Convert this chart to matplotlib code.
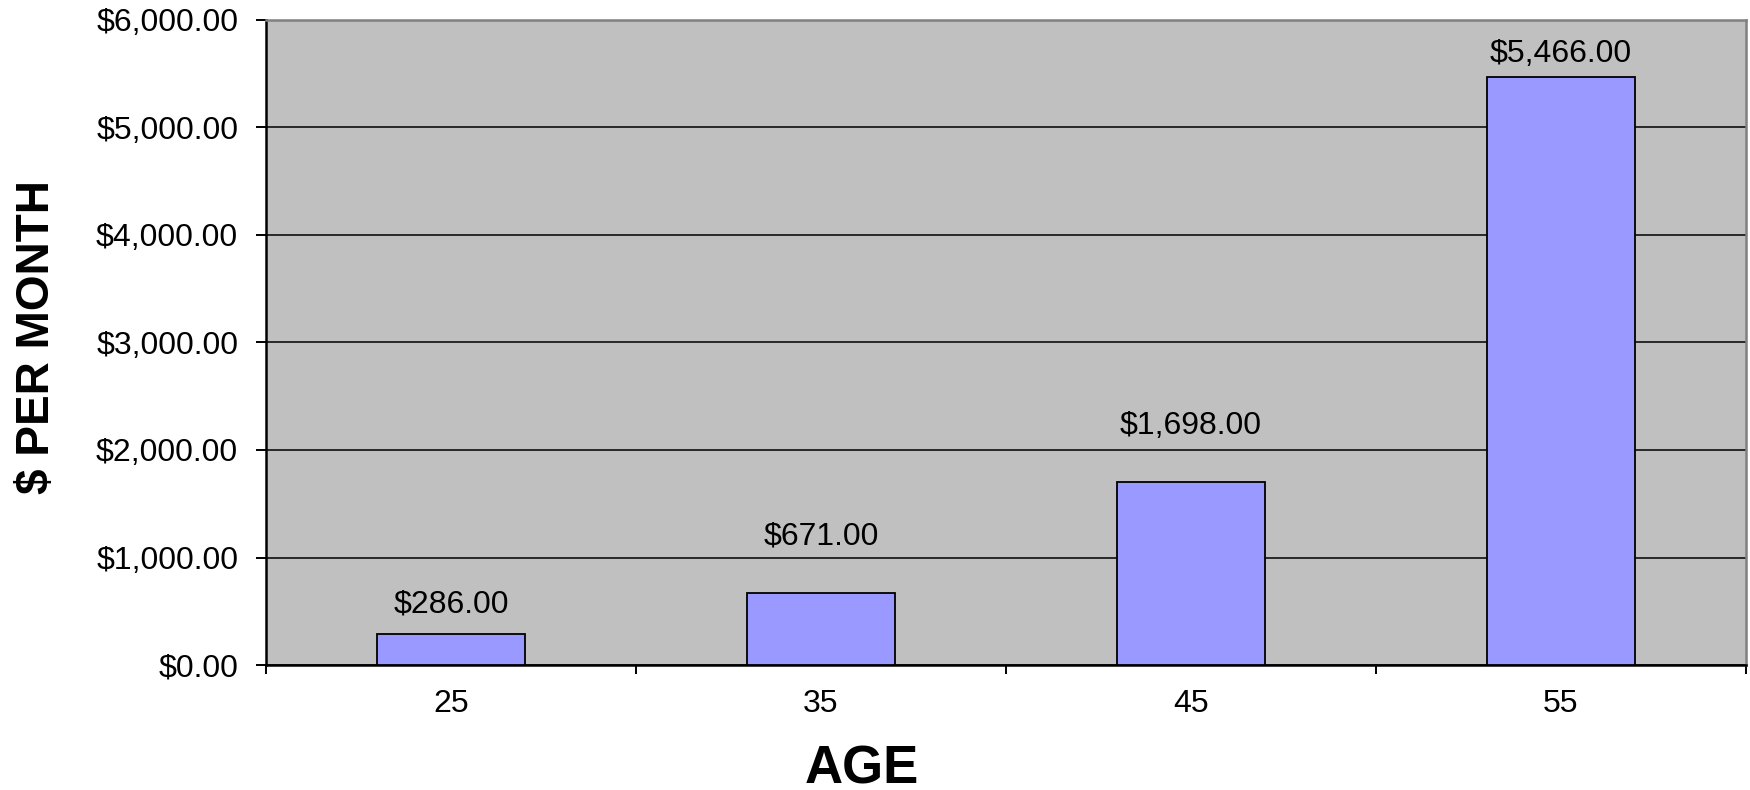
import matplotlib
matplotlib.use("Agg")
import matplotlib.pyplot as plt
from matplotlib.ticker import FuncFormatter, MultipleLocator, FixedLocator
import numpy as np

plt.rcParams['font.family'] = ['Liberation Sans', 'DejaVu Sans']

ages = ["25", "35", "45", "55"]
monthly_cost = [286.0, 671.0, 1698.0, 5466.0]
label_offsets_pt = [16, 35, 35, 11]  # Excel's label placement (style)

fig = plt.figure(figsize=(17.5, 7.9), dpi=100)
ax = fig.add_axes([266/1750, 125/790, 1480/1750, 645/790])
ax.set_facecolor('#C0C0C0')

x = np.arange(len(ages))
bars = ax.bar(x, monthly_cost, width=0.4, color='#9999FF', edgecolor='black', linewidth=1.3, zorder=3)

ax.set_xlim(-0.5, len(ages) - 0.5)
ax.set_ylim(0, 6000)
ax.yaxis.set_major_locator(MultipleLocator(1000))
ax.yaxis.set_major_formatter(FuncFormatter(lambda v, p: f"${v:,.2f}"))
ax.grid(axis='y', color='black', linewidth=1.1, zorder=1)
ax.set_axisbelow(True)

ax.set_xticks(x)
ax.set_xticklabels(ages)
ax.xaxis.set_minor_locator(FixedLocator(np.arange(-0.5, len(ages), 1.0)))
ax.tick_params(axis='x', which='major', length=0, pad=17, labelsize=23)
ax.tick_params(axis='x', which='minor', length=6.5, width=1.4, direction='out')
ax.tick_params(axis='y', which='major', length=7, width=1.4, direction='out', pad=13, labelsize=23)

for s in ['left', 'bottom']:
    ax.spines[s].set_color('black')
    ax.spines[s].set_linewidth(1.8)
for s in ['top', 'right']:
    ax.spines[s].set_color('#808080')
    ax.spines[s].set_linewidth(1.8)

for xi, v, off in zip(x, monthly_cost, label_offsets_pt):
    ax.annotate(f"${v:,.2f}", (xi, v), xytext=(0, off), textcoords='offset points',
                ha='center', va='baseline', fontsize=23)

fig.text(862/1750, 6/790, "AGE", fontsize=38, fontweight='bold', ha='center', va='baseline')
fig.text(37/1750, 1 - 337/790, "$ PER MONTH", fontsize=33, fontweight='bold', ha='center', va='center', rotation=90)

fig.savefig("out.png", dpi=100)
